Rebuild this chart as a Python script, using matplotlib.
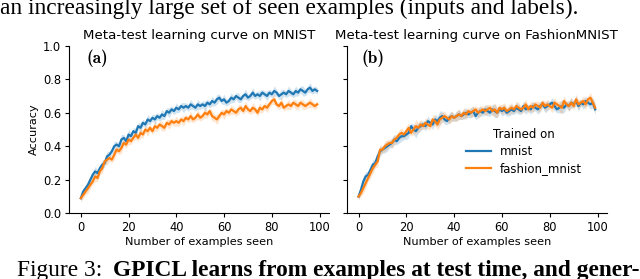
import numpy as np
import matplotlib
matplotlib.use("Agg")
import matplotlib.pyplot as plt

x = list(range(100))

mnist_on_mnist = [
    .09, .13, .15, .17, .20, .23, .25, .24, .27, .29,
    .30, .34, .35, .37, .40, .41, .40, .44, .45, .43,
    .47, .46, .49, .48, .52, .51, .54, .53, .56, .55,
    .57, .56, .58, .57, .59, .58, .61, .60, .62, .61,
    .63, .62, .64, .63, .64, .63, .65, .64, .63, .65,
    .64, .65, .64, .66, .65, .67, .66, .68, .69, .67,
    .68, .66, .67, .69, .68, .70, .69, .68, .70, .71,
    .69, .70, .72, .70, .71, .70, .72, .71, .70, .72,
    .71, .73, .72, .70, .71, .72, .71, .73, .72, .71,
    .73, .72, .74, .73, .72, .74, .75, .73, .74, .73]

fashion_on_mnist = [
    .09, .11, .13, .15, .17, .19, .22, .21, .25, .27,
    .31, .32, .33, .32, .35, .38, .37, .39, .42, .41,
    .44, .43, .45, .47, .45, .48, .47, .50, .49, .51,
    .49, .52, .51, .53, .52, .51, .54, .53, .55, .54,
    .55, .54, .56, .55, .57, .56, .58, .56, .57, .59,
    .57, .58, .60, .59, .61, .58, .57, .56, .58, .60,
    .59, .61, .60, .62, .61, .60, .62, .63, .61, .64,
    .62, .61, .63, .62, .60, .63, .62, .64, .63, .65,
    .67, .68, .65, .64, .66, .63, .64, .65, .64, .66,
    .65, .64, .66, .65, .64, .65, .66, .65, .64, .65]

mnist_on_fashion = [
    .10, .14, .19, .22, .23, .26, .29, .30, .34, .37,
    .38, .39, .40, .41, .42, .44, .43, .45, .46, .46,
    .47, .48, .52, .50, .49, .51, .52, .53, .52, .55,
    .54, .53, .56, .55, .57, .58, .56, .55, .57, .58,
    .57, .58, .59, .58, .59, .60, .59, .60, .61, .58,
    .60, .61, .60, .62, .61, .60, .62, .61, .60, .62,
    .61, .62, .60, .61, .62, .61, .63, .62, .61, .64,
    .62, .63, .62, .64, .63, .62, .64, .65, .63, .64,
    .65, .66, .64, .62, .63, .64, .63, .65, .64, .66,
    .65, .67, .64, .66, .65, .67, .66, .65, .66, .62]

fashion_on_fashion = [
    .10, .12, .15, .18, .21, .24, .27, .29, .31, .38,
    .38, .40, .41, .42, .42, .44, .45, .47, .48, .47,
    .49, .51, .48, .50, .52, .51, .53, .52, .54, .53,
    .52, .56, .55, .53, .56, .57, .58, .57, .56, .58,
    .57, .58, .59, .58, .60, .59, .61, .60, .61, .62,
    .60, .61, .62, .61, .62, .63, .61, .62, .60, .63,
    .62, .63, .61, .62, .63, .62, .64, .63, .62, .63,
    .65, .62, .64, .63, .65, .64, .63, .66, .64, .65,
    .64, .63, .66, .65, .64, .63, .67, .65, .64, .66,
    .64, .68, .65, .66, .67, .65, .68, .69, .66, .63]

band_left = [
    .02, .02, .02, .03, .02, .02, .03, .02, .02, .03,
    .02, .03, .02, .02, .03, .02, .02, .03, .02, .02,
    .03, .02, .02, .03, .02, .03, .02, .02, .03, .02,
    .02, .03, .02, .02, .03, .02, .02, .03, .02, .02,
    .03, .02, .02, .03, .02, .02, .03, .02, .02, .03,
    .02, .02, .03, .02, .02, .03, .02, .03, .02, .02,
    .03, .02, .02, .03, .02, .02, .03, .02, .02, .03,
    .02, .02, .03, .02, .02, .03, .02, .02, .03, .02,
    .02, .03, .02, .02, .03, .02, .02, .03, .02, .02,
    .03, .02, .02, .03, .02, .02, .03, .02, .02, .02]

band_right = [
    .02, .02, .03, .03, .02, .03, .03, .02, .03, .03,
    .02, .03, .03, .02, .03, .03, .02, .03, .03, .02,
    .03, .03, .02, .03, .04, .03, .03, .02, .03, .03,
    .02, .03, .03, .03, .04, .03, .03, .02, .03, .03,
    .02, .03, .03, .02, .03, .03, .02, .03, .03, .02,
    .03, .03, .02, .03, .03, .02, .03, .04, .03, .02,
    .03, .03, .02, .03, .03, .02, .03, .03, .02, .03,
    .03, .02, .03, .03, .02, .03, .03, .02, .03, .03,
    .02, .03, .03, .02, .03, .04, .03, .02, .03, .03,
    .02, .03, .03, .02, .03, .03, .02, .03, .03, .03]

series_labels = ["mnist", "fashion_mnist"]
titles = ["Meta-test learning curve on MNIST", "Meta-test learning curve on FashionMNIST"]
panel_tags = ["(a)", "(b)"]
yticks = [0.0, 0.2, 0.4, 0.6, 0.8, 1.0]
xticks = [0, 20, 40, 60, 80, 100]

colors = ["#1f77b4", "#ff7f0e"]

plt.rcParams['font.family'] = ['DejaVu Sans']
fig = plt.figure(figsize=(6.4, 2.79), dpi=100)
W, H = 640, 279

def ax_rect(x0, y0, x1, y1):
    return [x0 / W, (H - y1) / H, (x1 - x0) / W, (y1 - y0) / H]

ax1 = fig.add_axes(ax_rect(69, 45.7, 329, 213.3))
ax2 = fig.add_axes(ax_rect(346.7, 45.7, 607, 213.3))

panels = [
    (ax1, [mnist_on_mnist, fashion_on_mnist], band_left, 0.069),
    (ax2, [mnist_on_fashion, fashion_on_fashion], band_right, 0.058),
]

for i, (ax, ser, band, tagx) in enumerate(panels):
    for j, s in enumerate(ser):
        s = np.array(s)
        b = np.array(band)
        ax.fill_between(x, s - b, s + b, color=colors[j], alpha=0.2, linewidth=0)
        ax.plot(x, s, color=colors[j], linewidth=1.6, label=series_labels[j])
    ax.set_ylim(0, 1.0)
    ax.set_xlim(-4.95, 103.95)
    ax.set_yticks(yticks)
    ax.set_xticks(xticks)
    ax.spines['top'].set_visible(False)
    ax.spines['right'].set_visible(False)
    ax.tick_params(labelsize=8.3, length=3.2, width=0.8, pad=2.5)
    ax.set_xlabel("Number of examples seen", fontsize=8.1, labelpad=2)
    ax.set_title(titles[i], fontsize=9.6, pad=4.5)
    ax.text(tagx, 0.975, panel_tags[i], transform=ax.transAxes, ha='left', va='top',
            family='cmb10', fontsize=12.5)

ax1.set_ylabel("Accuracy", fontsize=8.1, labelpad=3)
ax2.tick_params(labelleft=False)

leg = ax2.legend(title="Trained on", loc='center left', bbox_to_anchor=(0.43, 0.37),
                 frameon=False, fontsize=8.5, title_fontsize=8.5,
                 handlelength=2.1, labelspacing=0.35, borderaxespad=0.2)

fig.text(0.0, (H - 14) / H, "an increasingly large set of seen examples (inputs and labels).",
         family='Liberation Serif', fontsize=16.8, ha='left', va='baseline')
fig.text(17 / W, (H - 276) / H, "Figure 3:", family='Liberation Serif',
         fontsize=16.8, ha='left', va='baseline')
fig.text(113 / W, (H - 276) / H, "GPICL learns from examples at test time, and gener-",
         family='Liberation Serif', fontweight='bold', fontsize=16.8, ha='left', va='baseline')

fig.savefig("out.png", dpi=100)
